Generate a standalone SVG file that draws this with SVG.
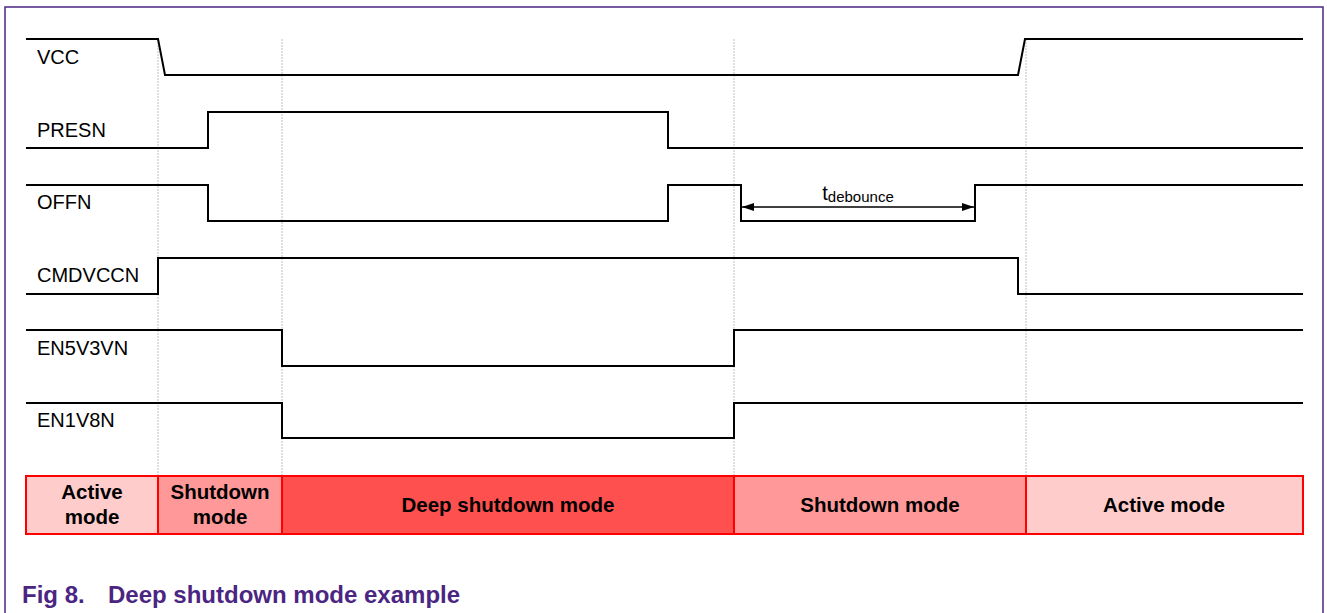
<svg xmlns="http://www.w3.org/2000/svg" width="1327" height="613" viewBox="0 0 1327 613">
  <defs>
    <style>
      .sig { fill: none; stroke: #000; stroke-width: 2; stroke-linejoin: miter; }
      .grid { stroke: #c0c0c0; stroke-width: 1; stroke-dasharray: 2 1; }
      .lbl { font-family: "Liberation Sans", Arial, sans-serif; font-size: 20px; fill: #000; }
      .mode { stroke: #ff0000; stroke-width: 2; }
      .mtxt { font-family: "Liberation Sans", Arial, sans-serif; font-size: 20.5px; font-weight: bold; fill: #000; text-anchor: middle; }
      .cap { font-family: "Liberation Sans", Arial, sans-serif; font-size: 24px; font-weight: bold; fill: #4b2582; }
    </style>
    <marker id="ah" viewBox="0 0 12 8" refX="12" refY="4" markerWidth="12" markerHeight="8" markerUnits="userSpaceOnUse" orient="auto-start-reverse">
      <path d="M0,0 L12,4 L0,8 Z" fill="#000"/>
    </marker>
  </defs>

  <rect width="1327" height="613" fill="#fff"/>
  <!-- frame -->
  <path d="M5,613 V7 H1323 V613" fill="none" stroke="#4b2582" stroke-width="1.5"/>

  <!-- mode boundaries -->
  <g id="gridlines">
    <line class="grid" x1="158" y1="39" x2="158" y2="476"/>
    <line class="grid" x1="282" y1="39" x2="282" y2="476"/>
    <line class="grid" x1="734" y1="39" x2="734" y2="476"/>
    <line class="grid" x1="1026" y1="39" x2="1026" y2="476"/>
  </g>

  <!-- waveforms -->
  <g id="connectors">
    <polyline id="w-vcc" class="sig" points="26,39 158,39 165,75 1018,75 1025,39 1303,39"/>
    <polyline id="w-presn" class="sig" points="26,148 208,148 208,112 668,112 668,148 1303,148"/>
    <polyline id="w-offn" class="sig" points="26,185 208,185 208,221 668,221 668,185 741,185 741,221 975,221 975,185 1303,185"/>
    <polyline id="w-cmdvccn" class="sig" points="26,294 158,294 158,258 1018,258 1018,294 1303,294"/>
    <polyline id="w-en5v3vn" class="sig" points="26,330 282,330 282,366 734,366 734,330 1303,330"/>
    <polyline id="w-en1v8n" class="sig" points="26,403 282,403 282,438 734,438 734,403 1303,403"/>
    <line id="a-debounce" x1="742" y1="207" x2="974" y2="207" stroke="#000" stroke-width="1.5" marker-start="url(#ah)" marker-end="url(#ah)"/>
  </g>

  <!-- signal names -->
  <g id="n-vcc"><text class="lbl" x="37" y="64">VCC</text></g>
  <g id="n-presn"><text class="lbl" x="37" y="137">PRESN</text></g>
  <g id="n-offn"><text class="lbl" x="37" y="209">OFFN</text></g>
  <g id="n-cmdvccn"><text class="lbl" x="37" y="282">CMDVCCN</text></g>
  <g id="n-en5v3vn"><text class="lbl" x="37" y="355">EN5V3VN</text></g>
  <g id="n-en1v8n"><text class="lbl" x="37" y="427">EN1V8N</text></g>
  <g id="n-tdebounce"><text class="lbl" x="858" y="200" text-anchor="middle" font-size="21px">t<tspan font-size="15px" dy="2">debounce</tspan></text></g>

  <!-- operating modes -->
  <g id="m-active1">
    <rect class="mode" x="26" y="476" width="132" height="58" fill="#ffcccc"/>
    <text class="mtxt" x="92" y="499">Active</text>
    <text class="mtxt" x="92" y="524">mode</text>
  </g>
  <g id="m-shutdown1">
    <rect class="mode" x="158" y="476" width="124" height="58" fill="#ff9999"/>
    <text class="mtxt" x="220" y="499">Shutdown</text>
    <text class="mtxt" x="220" y="524">mode</text>
  </g>
  <g id="m-deep">
    <rect class="mode" x="282" y="476" width="452" height="58" fill="#ff5050"/>
    <text class="mtxt" x="508" y="512">Deep shutdown mode</text>
  </g>
  <g id="m-shutdown2">
    <rect class="mode" x="734" y="476" width="292" height="58" fill="#ff9999"/>
    <text class="mtxt" x="880" y="512">Shutdown mode</text>
  </g>
  <g id="m-active2">
    <rect class="mode" x="1026" y="476" width="277" height="58" fill="#ffcccc"/>
    <text class="mtxt" x="1164" y="512">Active mode</text>
  </g>

  <!-- caption -->
  <g id="caption">
    <text class="cap" x="22" y="603">Fig 8.</text>
    <text class="cap" x="108" y="603">Deep shutdown mode example</text>
  </g>
</svg>
